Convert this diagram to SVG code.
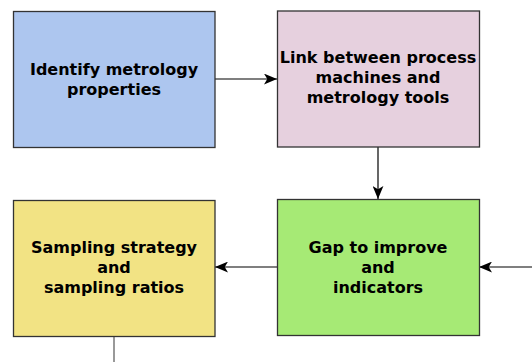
<svg xmlns="http://www.w3.org/2000/svg" width="532" height="362" viewBox="0 0 532 362">
<style>
.box{stroke:#333333;stroke-width:1.3}
.t{font-family:"DejaVu Sans",sans-serif;font-weight:bold;font-size:16px;fill:#000;text-anchor:middle}
.c{stroke:#000;stroke-width:1.2;fill:none}
</style>
<defs>
<marker id="ah" viewBox="0 0 12 10" refX="12" refY="5" markerWidth="13" markerHeight="11" markerUnits="userSpaceOnUse" orient="auto">
<path d="M0,0 L12,5 L0,10 L3,5 Z" fill="#000"/>
</marker>
</defs>
<rect width="532" height="362" fill="#ffffff"/>
<g id="connectors">
<line class="c" x1="215" y1="79" x2="277" y2="79" marker-end="url(#ah)"/>
<line class="c" x1="378" y1="147" x2="378" y2="199" marker-end="url(#ah)"/>
<line class="c" x1="277" y1="267" x2="215" y2="267" marker-end="url(#ah)"/>
<line class="c" x1="532" y1="267" x2="479" y2="267" marker-end="url(#ah)"/>
<line x1="114" y1="336" x2="114" y2="362" stroke="#555555" stroke-width="1.2"/>
</g>
<g id="n1">
<rect class="box" x="13.5" y="11.5" width="201.5" height="136" fill="#adc6ef"/>
<text class="t" x="114" y="75">Identify metrology</text>
<text class="t" x="114" y="95">properties</text>
</g>
<g id="n2">
<rect class="box" x="277.5" y="11" width="202" height="136" fill="#e6d0de"/>
<text class="t" x="378" y="63">Link between process</text>
<text class="t" x="378" y="83">machines and</text>
<text class="t" x="378" y="103">metrology tools</text>
</g>
<g id="n3">
<rect class="box" x="13.5" y="200.5" width="201.5" height="136" fill="#f2e384"/>
<text class="t" x="114" y="253">Sampling strategy</text>
<text class="t" x="114" y="273">and</text>
<text class="t" x="114" y="293">sampling ratios</text>
</g>
<g id="n4">
<rect class="box" x="277.5" y="199.5" width="202" height="136" fill="#a6ea75"/>
<text class="t" x="378" y="253">Gap to improve</text>
<text class="t" x="378" y="273">and</text>
<text class="t" x="378" y="293">indicators</text>
</g>
</svg>
